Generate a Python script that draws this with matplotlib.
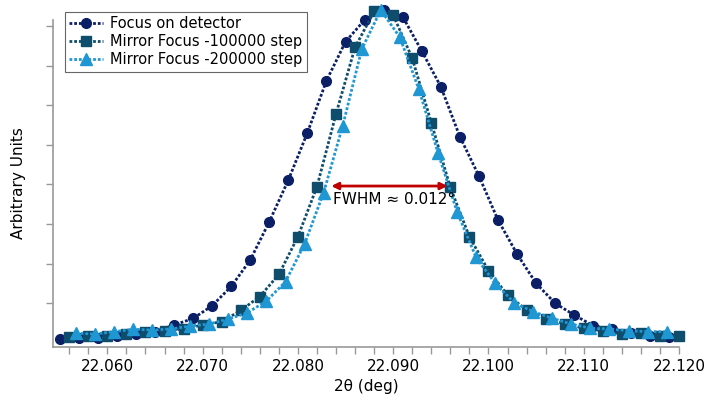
import numpy as np
import matplotlib.pyplot as plt
from matplotlib.ticker import MultipleLocator

# scan data, 2theta in deg, intensity in arbitrary units
x_det = np.arange(33) * 0.002 + 22.055
y_det = [0.111, 0.116, 0.116, 0.174, 0.225, 0.283, 0.452, 0.616, 0.939, 1.424,
         2.093, 3.060, 4.113, 5.307, 6.620, 7.604, 8.152, 8.404, 8.235, 7.369,
         6.468, 5.206, 4.214, 3.103, 2.244, 1.505, 1.000, 0.704, 0.434, 0.343,
         0.242, 0.174, 0.141]

x_m1 = np.arange(33) * 0.002 + 22.056
y_m1 = [0.157, 0.174, 0.182, 0.217, 0.268, 0.308, 0.351, 0.452, 0.535, 0.818,
        1.171, 1.727, 2.681, 3.943, 5.779, 7.463, 8.367, 8.278, 7.185, 5.559,
        3.923, 2.681, 1.823, 1.209, 0.831, 0.611, 0.485, 0.369, 0.308, 0.225,
        0.242, 0.174, 0.174]

x_m2 = np.arange(32) * 0.002 + 22.0567
y_m2 = [0.242, 0.225, 0.283, 0.343, 0.326, 0.351, 0.427, 0.477, 0.603, 0.762,
        1.058, 1.545, 2.497, 3.792, 5.476, 7.412, 8.404, 7.715, 6.402, 4.802,
        3.312, 2.161, 1.505, 1.015, 0.788, 0.621, 0.477, 0.369, 0.351, 0.308,
        0.283, 0.283]

labels = ['Focus on detector', 'Mirror Focus -100000 step', 'Mirror Focus -200000 step']
colors = ['#0b1f66', '#0f4d6d', '#1f97d3']

fig = plt.figure(figsize=(7.09, 4.01), dpi=100)
ax = fig.add_axes([0.0748, 0.1354, 0.8829, 0.8146])

ax.plot(x_det, y_det, ls=(0, (1, 0.7)), lw=2.0, marker='o', ms=7, color=colors[0],
        label=labels[0], clip_on=False)
ax.plot(x_m1, y_m1, ls=(0, (1, 0.7)), lw=2.0, marker='s', ms=6.5, color=colors[1],
        label=labels[1], clip_on=False)
ax.plot(x_m2, y_m2, ls=(0, (1, 0.7)), lw=2.0, marker='^', ms=8, color=colors[2],
        label=labels[2], clip_on=False)

# FWHM marker
ax.annotate('', xy=(22.0835, 3.96), xytext=(22.0957, 3.96),
            arrowprops=dict(arrowstyle='<|-|>', color='#c00000', lw=2,
                            mutation_scale=10, shrinkA=0, shrinkB=0))
ax.text(22.0837, 3.63, 'FWHM \u2248 0.012\u00b0', fontsize=11, va='center', ha='left')

ax.set_xlim(22.0543, 22.120)
ax.set_ylim(-0.096, 8.15)
ax.xaxis.set_major_locator(MultipleLocator(0.01))
ax.xaxis.set_minor_locator(MultipleLocator(0.002))
ax.xaxis.set_major_formatter(plt.FormatStrFormatter('%.3f'))
ax.set_yticks(np.arange(1, 9))
ax.set_yticklabels([])

for s in ['top', 'right']:
    ax.spines[s].set_visible(False)
for s in ['left', 'bottom']:
    ax.spines[s].set_color('#999999')
    ax.spines[s].set_linewidth(1.2)
ax.tick_params(which='both', direction='out', color='#999999', length=5, width=1,
               labelsize=11)

ax.set_xlabel('2\u03b8 (deg)', fontsize=11, labelpad=4)
ax.set_ylabel('Arbitrary Units', fontsize=11, labelpad=11)

leg = ax.legend(loc='upper left', bbox_to_anchor=(0.019, 1.0245), borderaxespad=0,
                fontsize=10.5, handlelength=2.3, fancybox=False, framealpha=1,
                edgecolor='#666666', borderpad=0.3, labelspacing=0.2, handletextpad=0.5)
leg.get_frame().set_linewidth(0.8)

fig.savefig('out.png', dpi=100)
